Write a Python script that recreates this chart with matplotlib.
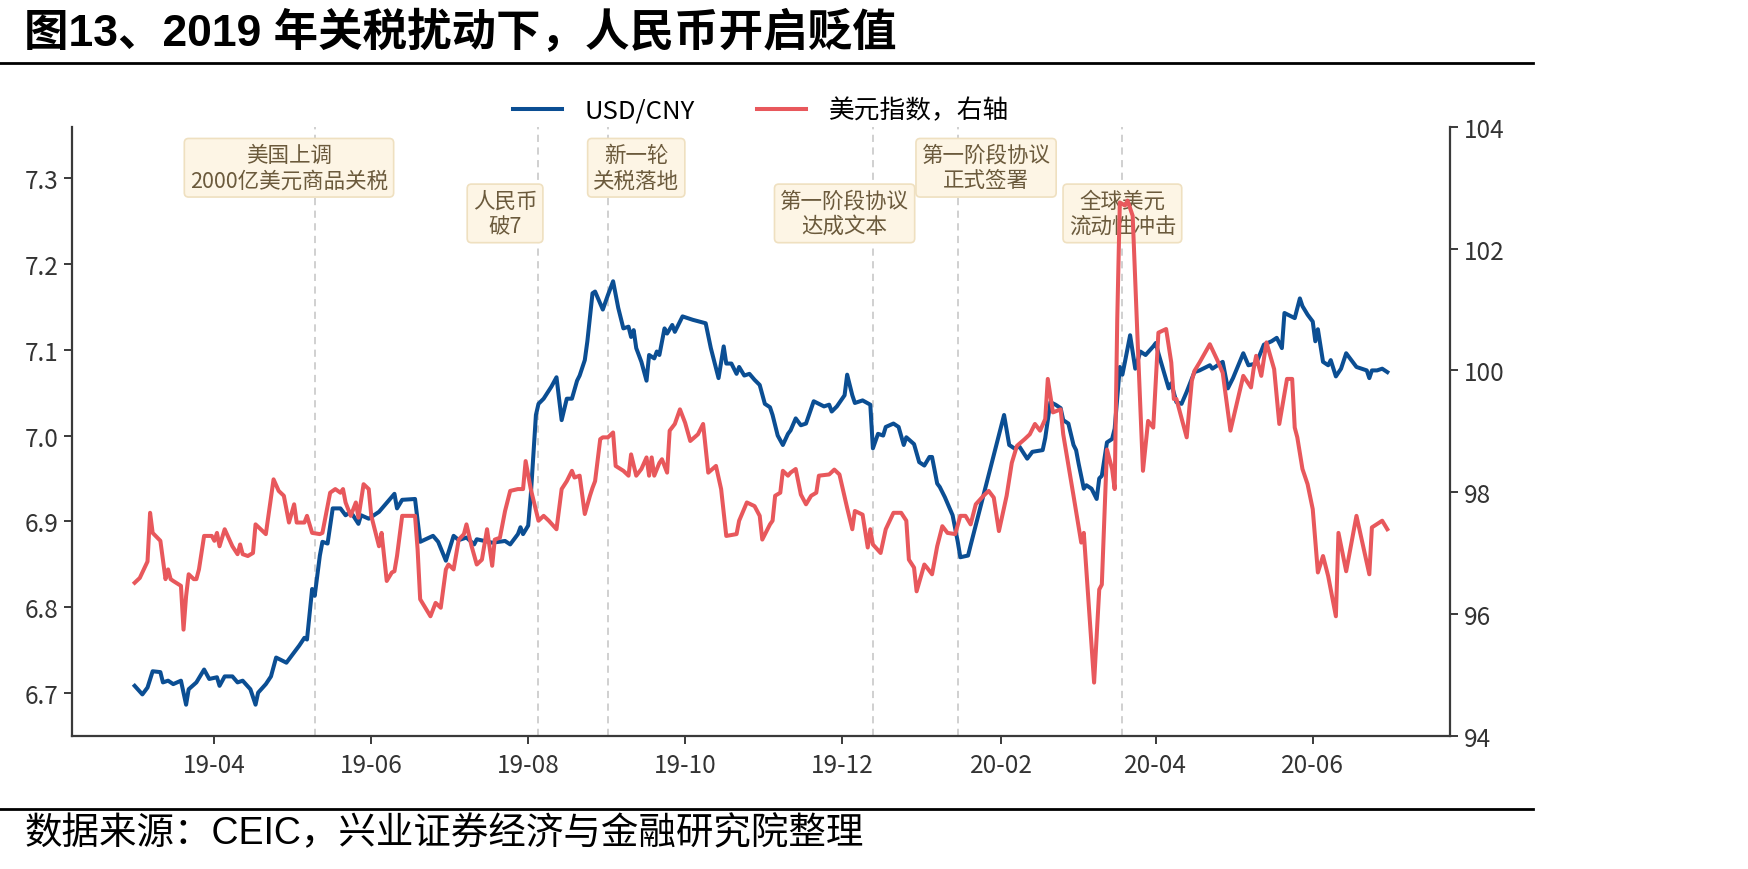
import matplotlib
matplotlib.use("Agg")
import matplotlib.pyplot as plt
import matplotlib.dates as mdates
from matplotlib.lines import Line2D
from matplotlib.ticker import FormatStrFormatter
import pandas as pd

plt.rcParams['font.family'] = ['Noto Sans CJK SC', 'DejaVu Sans']

# USD/CNY, left axis
usd_dates = [
    '2019-03-01', '2019-03-04', '2019-03-06', '2019-03-08', '2019-03-11', '2019-03-12', '2019-03-14',
    '2019-03-16', '2019-03-19', '2019-03-21', '2019-03-22', '2019-03-25', '2019-03-28', '2019-03-30',
    '2019-04-02', '2019-04-03', '2019-04-05', '2019-04-08', '2019-04-10', '2019-04-12', '2019-04-15',
    '2019-04-17', '2019-04-18', '2019-04-21', '2019-04-23', '2019-04-25', '2019-04-29',
    '2019-05-04', '2019-05-06', '2019-05-07', '2019-05-09', '2019-05-10', '2019-05-12', '2019-05-13',
    '2019-05-15', '2019-05-17', '2019-05-20', '2019-05-22', '2019-05-24', '2019-05-27', '2019-05-28',
    '2019-05-31',
    '2019-06-04', '2019-06-06', '2019-06-10', '2019-06-11', '2019-06-13', '2019-06-18', '2019-06-20',
    '2019-06-25', '2019-06-27', '2019-06-30',
    '2019-07-03', '2019-07-05', '2019-07-08', '2019-07-11', '2019-07-12', '2019-07-18', '2019-07-23',
    '2019-07-25', '2019-07-28', '2019-07-29', '2019-07-30',
    '2019-08-01', '2019-08-02', '2019-08-04', '2019-08-05', '2019-08-07', '2019-08-10', '2019-08-12',
    '2019-08-14', '2019-08-16', '2019-08-18', '2019-08-20', '2019-08-21', '2019-08-23', '2019-08-24',
    '2019-08-26', '2019-08-27', '2019-08-30',
    '2019-09-01', '2019-09-03', '2019-09-05', '2019-09-07', '2019-09-09', '2019-09-10', '2019-09-11',
    '2019-09-12', '2019-09-14', '2019-09-16', '2019-09-17', '2019-09-19', '2019-09-20', '2019-09-21',
    '2019-09-23', '2019-09-24', '2019-09-26', '2019-09-27', '2019-09-30',
    '2019-10-04', '2019-10-09', '2019-10-11', '2019-10-14', '2019-10-16', '2019-10-17', '2019-10-19',
    '2019-10-21', '2019-10-22', '2019-10-24', '2019-10-26', '2019-10-28', '2019-10-30',
    '2019-11-01', '2019-11-03', '2019-11-04', '2019-11-06', '2019-11-08', '2019-11-10', '2019-11-11',
    '2019-11-13', '2019-11-15', '2019-11-17', '2019-11-20', '2019-11-24', '2019-11-26', '2019-11-27',
    '2019-11-29',
    '2019-12-02', '2019-12-03', '2019-12-05', '2019-12-06', '2019-12-09', '2019-12-12', '2019-12-13',
    '2019-12-15', '2019-12-17', '2019-12-18', '2019-12-21', '2019-12-23', '2019-12-25', '2019-12-26',
    '2019-12-29', '2019-12-31',
    '2020-01-02', '2020-01-04', '2020-01-05', '2020-01-07', '2020-01-08', '2020-01-10', '2020-01-13',
    '2020-01-15', '2020-01-16', '2020-01-19', '2020-01-20',
    '2020-02-02', '2020-02-04', '2020-02-06', '2020-02-08', '2020-02-11', '2020-02-13', '2020-02-17',
    '2020-02-18', '2020-02-20', '2020-02-22', '2020-02-24', '2020-02-25', '2020-02-27', '2020-02-29',
    '2020-03-01', '2020-03-02', '2020-03-04', '2020-03-05', '2020-03-07', '2020-03-09', '2020-03-10',
    '2020-03-11', '2020-03-13', '2020-03-15', '2020-03-16', '2020-03-18', '2020-03-19', '2020-03-20',
    '2020-03-22', '2020-03-24', '2020-03-26', '2020-03-28', '2020-03-31',
    '2020-04-01', '2020-04-02', '2020-04-06', '2020-04-07', '2020-04-09', '2020-04-11', '2020-04-13',
    '2020-04-16', '2020-04-18', '2020-04-22', '2020-04-23', '2020-04-27', '2020-04-29',
    '2020-05-01', '2020-05-05', '2020-05-07', '2020-05-10', '2020-05-13', '2020-05-16', '2020-05-18',
    '2020-05-20', '2020-05-21', '2020-05-25', '2020-05-27', '2020-05-28', '2020-05-30',
    '2020-06-01', '2020-06-02', '2020-06-03', '2020-06-05', '2020-06-07', '2020-06-08', '2020-06-10',
    '2020-06-12', '2020-06-14', '2020-06-16', '2020-06-18', '2020-06-20', '2020-06-22', '2020-06-23',
    '2020-06-24', '2020-06-26', '2020-06-28', '2020-06-30',
]
usd_cny = [
    6.708, 6.698, 6.706, 6.725, 6.724, 6.712, 6.714, 6.710, 6.714, 6.686, 6.704, 6.712, 6.727, 6.716,
    6.718, 6.708, 6.719, 6.719, 6.712, 6.714, 6.704, 6.686, 6.700, 6.710, 6.719, 6.741, 6.735,
    6.755, 6.764, 6.762, 6.821, 6.813, 6.860, 6.876, 6.874, 6.915, 6.915, 6.907, 6.911, 6.897, 6.907,
    6.903,
    6.911, 6.918, 6.932, 6.915, 6.925, 6.926, 6.876, 6.883, 6.876, 6.854,
    6.883, 6.878, 6.881, 6.873, 6.879, 6.875, 6.877, 6.873, 6.885, 6.893, 6.885,
    6.895, 6.930, 7.024, 7.037, 7.043, 7.057, 7.068, 7.018, 7.043, 7.043, 7.064, 7.070, 7.088, 7.110,
    7.166, 7.168, 7.147,
    7.164, 7.180, 7.149, 7.125, 7.127, 7.115, 7.123, 7.102, 7.086, 7.064, 7.094, 7.090, 7.098, 7.094,
    7.125, 7.119, 7.129, 7.121, 7.139,
    7.135, 7.131, 7.102, 7.067, 7.104, 7.084, 7.084, 7.072, 7.080, 7.070, 7.072, 7.065, 7.059,
    7.037, 7.033, 7.024, 7.000, 6.989, 7.002, 7.006, 7.020, 7.012, 7.014, 7.040, 7.034, 7.036, 7.028,
    7.034,
    7.047, 7.071, 7.047, 7.038, 7.041, 7.036, 6.985, 7.002, 7.000, 7.010, 7.014, 7.010, 6.989, 6.998,
    6.990, 6.969,
    6.965, 6.975, 6.975, 6.944, 6.940, 6.928, 6.907, 6.876, 6.858, 6.860, 6.872,
    7.024, 6.989, 6.985, 6.987, 6.973, 6.981, 6.983, 6.997, 7.039, 7.036, 7.032, 7.018, 7.014, 6.989,
    6.983, 6.967, 6.938, 6.942, 6.938, 6.926, 6.950, 6.953, 6.992, 6.996, 7.008, 7.080, 7.071, 7.086,
    7.117, 7.078, 7.098, 7.094, 7.104,
    7.108, 7.096, 7.055, 7.061, 7.039, 7.037, 7.051, 7.074, 7.076, 7.082, 7.078, 7.086, 7.055,
    7.067, 7.096, 7.082, 7.084, 7.106, 7.110, 7.114, 7.102, 7.143, 7.137, 7.160, 7.151, 7.141,
    7.133, 7.110, 7.124, 7.086, 7.082, 7.088, 7.069, 7.078, 7.096, 7.088, 7.080, 7.078, 7.076, 7.067,
    7.076, 7.076, 7.078, 7.074,
]

# US dollar index, right axis
dxy_dates = [
    '2019-03-01', '2019-03-03', '2019-03-04', '2019-03-06', '2019-03-07', '2019-03-08', '2019-03-11',
    '2019-03-12', '2019-03-13', '2019-03-14', '2019-03-15', '2019-03-16', '2019-03-19', '2019-03-20',
    '2019-03-21', '2019-03-22', '2019-03-24', '2019-03-25', '2019-03-26', '2019-03-28', '2019-03-31',
    '2019-04-01', '2019-04-02', '2019-04-03', '2019-04-05', '2019-04-08', '2019-04-10', '2019-04-11',
    '2019-04-12', '2019-04-14', '2019-04-16', '2019-04-17', '2019-04-21', '2019-04-24', '2019-04-26',
    '2019-04-28', '2019-04-30',
    '2019-05-02', '2019-05-03', '2019-05-06', '2019-05-07', '2019-05-09', '2019-05-12', '2019-05-13',
    '2019-05-16', '2019-05-18', '2019-05-20', '2019-05-21', '2019-05-22', '2019-05-24', '2019-05-26',
    '2019-05-27', '2019-05-29', '2019-05-31',
    '2019-06-01', '2019-06-04', '2019-06-05', '2019-06-07', '2019-06-09', '2019-06-10', '2019-06-11',
    '2019-06-13', '2019-06-16', '2019-06-18', '2019-06-19', '2019-06-20', '2019-06-24', '2019-06-26',
    '2019-06-28', '2019-06-30',
    '2019-07-01', '2019-07-03', '2019-07-05', '2019-07-07', '2019-07-08', '2019-07-10', '2019-07-12',
    '2019-07-14', '2019-07-16', '2019-07-18', '2019-07-19', '2019-07-21', '2019-07-23', '2019-07-25',
    '2019-07-28', '2019-07-30', '2019-07-31',
    '2019-08-02', '2019-08-05', '2019-08-07', '2019-08-09', '2019-08-12', '2019-08-14', '2019-08-16',
    '2019-08-18', '2019-08-19', '2019-08-21', '2019-08-23', '2019-08-25', '2019-08-26', '2019-08-27',
    '2019-08-29', '2019-08-30',
    '2019-09-01', '2019-09-03', '2019-09-04', '2019-09-07', '2019-09-09', '2019-09-10', '2019-09-12',
    '2019-09-14', '2019-09-16', '2019-09-17', '2019-09-18', '2019-09-19', '2019-09-21', '2019-09-22',
    '2019-09-24', '2019-09-25', '2019-09-27', '2019-09-29',
    '2019-10-01', '2019-10-03', '2019-10-06', '2019-10-08', '2019-10-10', '2019-10-13', '2019-10-15',
    '2019-10-17', '2019-10-21', '2019-10-22', '2019-10-25', '2019-10-28', '2019-10-30', '2019-10-31',
    '2019-11-03', '2019-11-04', '2019-11-05', '2019-11-07', '2019-11-08', '2019-11-10', '2019-11-11',
    '2019-11-13', '2019-11-15', '2019-11-17', '2019-11-19', '2019-11-21', '2019-11-22', '2019-11-26',
    '2019-11-28', '2019-11-30',
    '2019-12-03', '2019-12-05', '2019-12-06', '2019-12-09', '2019-12-11', '2019-12-12', '2019-12-13',
    '2019-12-16', '2019-12-18', '2019-12-21', '2019-12-24', '2019-12-26', '2019-12-27', '2019-12-29',
    '2019-12-30',
    '2020-01-02', '2020-01-03', '2020-01-05', '2020-01-07', '2020-01-09', '2020-01-11', '2020-01-14',
    '2020-01-16', '2020-01-18', '2020-01-20', '2020-01-22', '2020-01-25', '2020-01-27', '2020-01-29',
    '2020-01-31',
    '2020-02-03', '2020-02-05', '2020-02-07', '2020-02-10', '2020-02-12', '2020-02-14', '2020-02-16',
    '2020-02-18', '2020-02-19', '2020-02-21', '2020-02-24', '2020-02-25', '2020-02-29',
    '2020-03-03', '2020-03-04', '2020-03-08', '2020-03-10', '2020-03-11', '2020-03-13', '2020-03-15',
    '2020-03-16', '2020-03-17', '2020-03-18', '2020-03-20', '2020-03-21', '2020-03-23', '2020-03-25',
    '2020-03-27', '2020-03-29', '2020-03-31',
    '2020-04-02', '2020-04-05', '2020-04-07', '2020-04-08', '2020-04-09', '2020-04-13', '2020-04-15',
    '2020-04-16', '2020-04-18', '2020-04-22', '2020-04-25', '2020-04-27', '2020-04-30',
    '2020-05-05', '2020-05-08', '2020-05-09', '2020-05-10', '2020-05-12', '2020-05-14', '2020-05-17',
    '2020-05-19', '2020-05-22', '2020-05-24', '2020-05-25', '2020-05-26', '2020-05-28', '2020-05-30',
    '2020-06-01', '2020-06-03', '2020-06-05', '2020-06-07', '2020-06-10', '2020-06-11', '2020-06-14',
    '2020-06-18', '2020-06-23', '2020-06-24', '2020-06-28', '2020-06-30',
]
dxy = [
    96.51, 96.59, 96.68, 96.86, 97.66, 97.33, 97.20, 96.89, 96.57, 96.73, 96.57, 96.54, 96.46, 95.74,
    96.29, 96.65, 96.57, 96.57, 96.73, 97.28, 97.28,
    97.20, 97.33, 97.11, 97.39, 97.11, 96.98, 97.14, 96.98, 96.95, 97.00, 97.47, 97.31, 98.21, 98.02,
    97.94, 97.50,
    97.80, 97.50, 97.50, 97.61, 97.33, 97.31, 97.33, 97.99, 98.05, 97.99, 98.05, 97.83, 97.61, 97.83,
    97.58, 98.13, 98.05,
    97.61, 97.11, 97.33, 96.54, 96.68, 96.70, 96.95, 97.61, 97.61, 97.61, 97.06, 96.24, 95.96, 96.18,
    96.10, 96.73,
    96.81, 96.73, 97.22, 97.31, 97.47, 97.11, 96.81, 96.89, 97.39, 96.79, 97.22, 97.25, 97.69, 98.02,
    98.05, 98.05, 98.51,
    98.05, 97.53, 97.61, 97.53, 97.39, 98.05, 98.18, 98.35, 98.24, 98.27, 97.64, 97.94, 98.07, 98.18,
    98.87, 98.90,
    98.90, 98.98, 98.43, 98.35, 98.27, 98.62, 98.27, 98.38, 98.57, 98.27, 98.57, 98.27, 98.48, 98.54,
    98.32, 99.01, 99.12, 99.36,
    99.14, 98.84, 98.95, 99.12, 98.32, 98.43, 98.05, 97.28, 97.31, 97.53, 97.83, 97.77, 97.61, 97.22,
    97.47, 97.53, 97.94, 97.99, 98.35, 98.27, 98.32, 98.38, 97.96, 97.80, 97.94, 97.99, 98.27, 98.29,
    98.37, 98.29,
    97.74, 97.39, 97.69, 97.63, 97.09, 97.39, 97.14, 97.00, 97.39, 97.66, 97.66, 97.53, 96.89, 96.76,
    96.37,
    96.81, 96.76, 96.65, 97.11, 97.44, 97.33, 97.31, 97.61, 97.61, 97.47, 97.80, 97.94, 98.02, 97.91,
    97.36,
    97.94, 98.48, 98.76, 98.87, 98.95, 99.12, 99.01, 99.20, 99.86, 99.31, 99.36, 98.95, 97.94,
    97.17, 97.33, 94.87, 96.40, 96.48, 98.70, 98.38, 98.05, 100.84, 102.76, 102.71, 102.79, 102.54,
    100.40, 98.35, 99.17, 99.06,
    100.62, 100.68, 100.13, 99.53, 99.53, 98.90, 99.83, 99.99, 100.13, 100.43, 100.16, 99.96, 99.01,
    99.91, 99.72, 100.02, 100.24, 99.91, 100.46, 100.02, 99.12, 99.86, 99.86, 99.06, 98.90, 98.38,
    98.13,
    97.72, 96.68, 96.95, 96.62, 95.96, 97.33, 96.70, 97.61, 96.65, 97.42, 97.53, 97.39,
]

# events: dashed line dates, label texts and where the label box sits
event_dates = ['2019-05-10', '2019-08-05', '2019-09-01', '2019-12-13', '2020-01-15', '2020-03-19']
event_labels = ['美国上调\n2000亿美元商品关税', '人民币\n破7', '新一轮\n关税落地',
                '第一阶段协议\n达成文本', '第一阶段协议\n正式签署', '全球美元\n流动性冲击']
label_dates = ['2019-04-30', '2019-07-23', '2019-09-12', '2019-12-02', '2020-01-26', '2020-03-19']

left_ticks = [6.7, 6.8, 6.9, 7.0, 7.1, 7.2, 7.3]
right_ticks = [94, 96, 98, 100, 102, 104]

blue = '#0b4e93'
red = '#e8585c'
axis_col = '#3a3a3a'

fig = plt.figure(figsize=(17.48, 8.70), dpi=100)
ax = fig.add_axes([0.0412, 0.1534, 0.7883, 0.6995])
ax2 = ax.twinx()

l1, = ax.plot(pd.to_datetime(usd_dates), usd_cny, color=blue, lw=2.9, zorder=3)
l2, = ax2.plot(pd.to_datetime(dxy_dates), dxy, color=red, lw=2.9, zorder=3)

for d in event_dates:
    ax.axvline(pd.Timestamp(d), color='#cdcdcd', lw=1.3, ls=(0, (4, 3)), zorder=1)

label_y = [0.933, 0.858, 0.933, 0.858, 0.933, 0.858]
for text, d, y in zip(event_labels, label_dates, label_y):
    ax.text(mdates.date2num(pd.Timestamp(d)), y, text, transform=ax.get_xaxis_transform(),
            ha='center', va='center', fontsize=15.5, color='#6b5a3c', linespacing=1.2, zorder=4,
            bbox=dict(boxstyle='round,pad=0.26,rounding_size=0.2', fc='#fdf5e5', ec='#efe0c0', lw=1.2))

ax.set_ylim(6.65, 7.36)
ax.set_yticks(left_ticks)
ax.yaxis.set_major_formatter(FormatStrFormatter('%.1f'))
ax2.set_ylim(94, 104)
ax2.set_yticks(right_ticks)

ax.xaxis.set_major_locator(mdates.MonthLocator(bymonth=[2, 4, 6, 8, 10, 12]))
ax.xaxis.set_major_formatter(mdates.DateFormatter('%y-%m'))

for s in ['top', 'right']:
    ax.spines[s].set_visible(False)
for s in ['top', 'left', 'bottom']:
    ax2.spines[s].set_visible(False)
for sp in [ax.spines['left'], ax.spines['bottom'], ax2.spines['right']]:
    sp.set_color(axis_col)
    sp.set_linewidth(1.6)

for a in (ax, ax2):
    a.tick_params(labelsize=17.5, length=6, width=1.4, color=axis_col, labelcolor='#333333', pad=4)
ax.tick_params(axis='x', pad=6)

ax2.legend([l1, l2], ['USD/CNY', '美元指数，右轴'], loc='center', bbox_to_anchor=(0.5, 1.027),
           ncol=2, frameon=False, fontsize=18.5, handlelength=1.9, handletextpad=0.9, columnspacing=2.4)

fig.text(0.0137, 0.962, '图13、2019 年关税扰动下，人民币开启贬值', fontsize=32, fontweight='bold',
         family=['Liberation Sans', 'Noto Sans CJK SC'], ha='left', va='center')
fig.add_artist(Line2D([0, 0.877], [0.927, 0.927], color='black', lw=2, transform=fig.transFigure))
fig.add_artist(Line2D([0, 0.877], [0.0684, 0.0684], color='black', lw=2, transform=fig.transFigure))
fig.text(0.014, 0.0414, '数据来源：CEIC，兴业证券经济与金融研究院整理', fontsize=27,
         family=['Liberation Sans', 'Noto Sans CJK SC'], ha='left', va='center')

fig.savefig('out.png', dpi=100)
